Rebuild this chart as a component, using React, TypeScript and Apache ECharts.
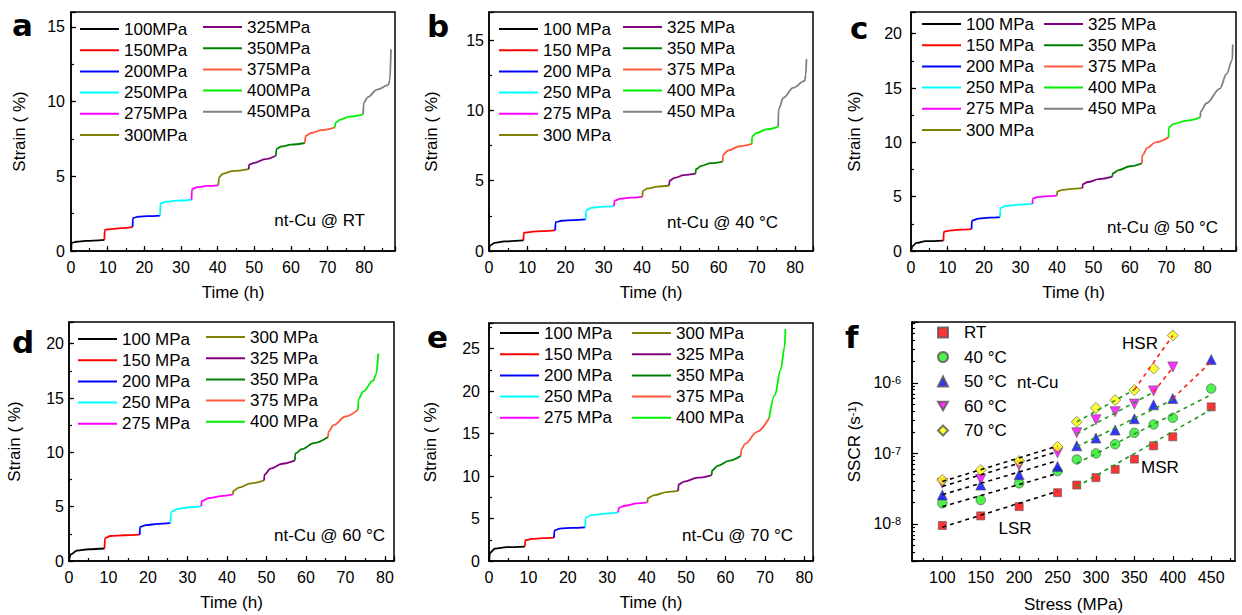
import React, { useEffect, useRef } from 'react';
import * as echarts from 'echarts';

const FONT = '"Liberation Sans", Arial, Helvetica, sans-serif';

type Pt = [number, number];

// ---------- stress levels (legend labels) ----------
const levelsA = ['100MPa', '150MPa', '200MPa', '250MPa', '275MPa', '300MPa', '325MPa', '350MPa', '375MPa', '400MPa', '450MPa'];
const levelsB = ['100 MPa', '150 MPa', '200 MPa', '250 MPa', '275 MPa', '300 MPa', '325 MPa', '350 MPa', '375 MPa', '400 MPa', '450 MPa'];
const levelsD = ['100 MPa', '150 MPa', '200 MPa', '250 MPa', '275 MPa', '300 MPa', '325 MPa', '350 MPa', '375 MPa', '400 MPa'];
const levelColors = ['#000000', '#ff0000', '#0000ff', '#00ffff', '#ff00ff', '#808000', '#800080', '#008000', '#ff5a3c', '#00ee00', '#808080'];

// ---------- panel a : RT (time h, strain %) ----------
const a100: Pt[] = [[0, 0], [0.2, 0.55], [1.5, 0.62], [4, 0.68], [9.1, 0.75]];
const a150: Pt[] = [[9.1, 0.75], [9.2, 1.42], [11, 1.47], [13.5, 1.53], [16.8, 1.6]];
const a200: Pt[] = [[16.8, 1.6], [16.9, 2.22], [18.5, 2.3], [21, 2.33], [24.3, 2.37]];
const a250: Pt[] = [[24.3, 2.37], [24.4, 3.18], [26, 3.3], [29, 3.37], [32.9, 3.43]];
const a275: Pt[] = [[32.9, 3.43], [33.0, 4.15], [34.5, 4.27], [37, 4.36], [40.2, 4.4]];
const a300: Pt[] = [[40.2, 4.4], [40.4, 4.95], [41.5, 5.18], [44, 5.35], [48.5, 5.48]];
const a325: Pt[] = [[48.5, 5.48], [48.6, 5.78], [50, 5.9], [53, 6.15], [55.9, 6.38]];
const a350: Pt[] = [[55.9, 6.38], [56.1, 6.85], [57.5, 7.0], [60, 7.12], [63.8, 7.23]];
const a375: Pt[] = [[63.8, 7.23], [64, 7.7], [65.5, 7.9], [68.5, 8.1], [72, 8.28]];
const a400: Pt[] = [[72, 8.28], [72.2, 8.6], [73.5, 8.8], [76, 9.0], [79.7, 9.15]];
const a450: Pt[] = [[79.7, 9.15], [79.9, 9.95], [81, 10.3], [83.5, 10.8], [86.5, 11.1], [87.0, 11.4], [87.3, 13.5]];

// ---------- panel b : 40 C ----------
const b100: Pt[] = [[0, 0.1], [0.3, 0.4], [1.5, 0.58], [4, 0.68], [9, 0.75]];
const b150: Pt[] = [[9, 0.75], [9.1, 1.3], [11, 1.36], [14, 1.42], [17.3, 1.47]];
const b200: Pt[] = [[17.3, 1.47], [17.4, 2.05], [19, 2.15], [22, 2.2], [25.3, 2.25]];
const b250: Pt[] = [[25.3, 2.25], [25.4, 2.92], [27, 3.08], [30, 3.15], [32.7, 3.19]];
const b275: Pt[] = [[32.7, 3.19], [32.8, 3.58], [34.5, 3.72], [37, 3.79], [40.1, 3.85]];
const b300: Pt[] = [[40.1, 3.85], [40.2, 4.28], [41.5, 4.45], [44, 4.58], [47.1, 4.66]];
const b325: Pt[] = [[47.1, 4.66], [47.2, 5.0], [48.5, 5.2], [51, 5.4], [54.0, 5.5]];
const b350: Pt[] = [[54, 5.5], [54.1, 5.82], [55.5, 6.05], [58, 6.25], [61.1, 6.36]];
const b375: Pt[] = [[61.1, 6.36], [61.2, 6.85], [62.5, 7.15], [65.5, 7.45], [68.7, 7.62]];
const b400: Pt[] = [[68.7, 7.62], [68.8, 8.15], [70, 8.4], [72.5, 8.65], [75.6, 8.85]];
const b450: Pt[] = [[75.6, 8.85], [75.7, 10.1], [77, 10.9], [79.5, 11.6], [82.5, 12.1], [82.8, 12.5], [83.0, 13.65]];

// ---------- panel c : 50 C ----------
const c100: Pt[] = [[0, 0], [0.4, 0.45], [1.5, 0.75], [4, 0.9], [8.9, 0.95]];
const c150: Pt[] = [[8.9, 0.95], [9.0, 1.78], [10.5, 1.88], [13.5, 1.96], [16.6, 2.02]];
const c200: Pt[] = [[16.6, 2.02], [16.7, 2.8], [18.5, 2.98], [21.5, 3.07], [24.4, 3.12]];
const c250: Pt[] = [[24.4, 3.12], [24.5, 3.95], [26, 4.15], [29.5, 4.27], [33.3, 4.34]];
const c275: Pt[] = [[33.3, 4.34], [33.4, 4.84], [35, 4.98], [37.5, 5.05], [40, 5.1]];
const c300: Pt[] = [[40, 5.1], [40.1, 5.48], [41.5, 5.62], [44, 5.72], [47, 5.78]];
const c325: Pt[] = [[47, 5.78], [47.1, 6.15], [48.5, 6.35], [51.5, 6.62], [55.2, 6.85]];
const c350: Pt[] = [[55.2, 6.85], [55.3, 7.15], [57, 7.45], [60, 7.8], [63.3, 8.07]];
const c375: Pt[] = [[63.3, 8.07], [63.4, 8.8], [64.8, 9.5], [67, 10.0], [70.6, 10.46]];
const c400: Pt[] = [[70.6, 10.46], [70.7, 11.4], [72, 11.7], [75.5, 12.0], [79.3, 12.3]];
const c450: Pt[] = [[79.3, 12.3], [79.4, 12.85], [81, 13.6], [84.7, 14.95], [86.5, 16.3], [88.1, 17.6], [88.2, 19.0]];

// ---------- panel d : 60 C ----------
const d100: Pt[] = [[0, 0], [0.4, 0.6], [2, 0.95], [5, 1.08], [9, 1.15]];
const d150: Pt[] = [[9, 1.15], [9.1, 2.1], [10.5, 2.3], [14, 2.37], [17.9, 2.42]];
const d200: Pt[] = [[17.9, 2.42], [18, 3.15], [19.5, 3.3], [22.5, 3.42], [25.7, 3.5]];
const d250: Pt[] = [[25.7, 3.5], [25.8, 4.5], [27.5, 4.8], [30.5, 4.95], [33.5, 5.06]];
const d275: Pt[] = [[33.5, 5.06], [33.6, 5.5], [35.5, 5.8], [38.5, 5.98], [41.5, 6.13]];
const d300: Pt[] = [[41.5, 6.13], [41.6, 6.45], [43, 6.75], [46, 7.15], [49.4, 7.42]];
const d325: Pt[] = [[49.4, 7.42], [49.5, 7.95], [51, 8.5], [54, 8.95], [57.2, 9.26]];
const d350: Pt[] = [[57.2, 9.26], [57.3, 9.9], [59, 10.3], [62, 10.85], [65.6, 11.41]];
const d375: Pt[] = [[65.6, 11.41], [65.7, 11.9], [67, 12.5], [70, 13.3], [73.2, 13.93]];
const d400: Pt[] = [[73.2, 13.93], [73.3, 14.9], [74.5, 15.6], [77.0, 16.6], [77.8, 17.2], [78.3, 19.1]];

// ---------- panel e : 70 C ----------
const e100: Pt[] = [[0, 0], [0.3, 1.0], [1.5, 1.45], [4.5, 1.63], [9.1, 1.7]];
const e150: Pt[] = [[9.1, 1.7], [9.2, 2.45], [11, 2.6], [13.5, 2.68], [16.5, 2.74]];
const e200: Pt[] = [[16.5, 2.74], [16.6, 3.6], [18, 3.82], [21, 3.9], [24.4, 3.96]];
const e250: Pt[] = [[24.4, 3.96], [24.5, 5.1], [26, 5.4], [29.5, 5.58], [32.8, 5.72]];
const e275: Pt[] = [[32.8, 5.72], [32.9, 6.25], [34.5, 6.5], [37.5, 6.78], [40.2, 6.9]];
const e300: Pt[] = [[40.2, 6.9], [40.3, 7.4], [42, 7.75], [45, 8.1], [48, 8.27]];
const e325: Pt[] = [[48, 8.27], [48.1, 9.0], [49.5, 9.35], [53, 9.8], [56.5, 10.11]];
const e350: Pt[] = [[56.5, 10.11], [56.6, 10.65], [58, 11.2], [61, 11.8], [63.9, 12.38]];
const e375: Pt[] = [[63.9, 12.38], [64, 13.1], [65, 13.8], [68, 15.2], [71.1, 16.85]];
const e400: Pt[] = [[71.1, 16.85], [72.5, 19.5], [74, 22.5], [75.0, 25.2], [75.2, 27.3]];

// ---------- panel f : steady-state creep rate (s^-1) vs stress (MPa) ----------
const stressF = [100, 150, 200, 250, 275, 300, 325, 350, 375, 400, 450];
const sscrRT = [9.5e-9, 1.3e-8, 1.76e-8, 2.77e-8, 3.56e-8, 4.53e-8, 5.94e-8, 8.3e-8, 1.28e-7, 1.72e-7, 4.57e-7];
const sscr40 = [1.96e-8, 2.18e-8, 3.76e-8, 5.6e-8, 8.2e-8, 1.0e-7, 1.35e-7, 1.96e-7, 2.57e-7, 3.2e-7, 8.3e-7];
const sscr50 = [2.57e-8, 3.56e-8, 5.0e-8, 6.5e-8, 1.28e-7, 1.65e-7, 2.14e-7, 3.1e-7, 4.9e-7, 6.0e-7, 2.14e-6];
const sscr60 = [3.76e-8, 4.3e-8, 6.8e-8, 1.02e-7, 1.96e-7, 3.0e-7, 3.9e-7, 5.0e-7, 7.7e-7, 1.68e-6, null];
const sscr70 = [4.2e-8, 5.8e-8, 7.8e-8, 1.24e-7, 2.8e-7, 4.4e-7, 5.7e-7, 7.9e-7, 1.6e-6, 4.7e-6, null];
const tempNames = ['RT', '40 °C', '50 °C', '60 °C', '70 °C'];

// fitted regimes (dashed)
const lsrRT: Pt[] = [[100, 9.0e-9], [250, 2.9e-8]];
const lsr40: Pt[] = [[100, 1.76e-8], [250, 5.2e-8]];
const lsr50: Pt[] = [[100, 2.6e-8], [250, 7.9e-8]];
const lsr60: Pt[] = [[100, 3.4e-8], [250, 1.06e-7]];
const lsr70: Pt[] = [[100, 4.0e-8], [250, 1.27e-7]];
const msrRT: Pt[] = [[275, 3.37e-8], [450, 4.2e-7]];
const msr40: Pt[] = [[275, 7.2e-8], [450, 6.8e-7]];
const msr50: Pt[] = [[275, 1.24e-7], [400, 5.8e-7]];
const msr60: Pt[] = [[275, 1.9e-7], [375, 7.4e-7]];
const msr70: Pt[] = [[275, 2.8e-7], [350, 8.0e-7]];
const hsr50: Pt[] = [[400, 6.0e-7], [450, 2.0e-6]];
const hsr60: Pt[] = [[375, 7.4e-7], [400, 1.65e-6]];
const hsr70: Pt[] = [[350, 8.0e-7], [400, 4.7e-6]];

const fStressTicks = [100, 150, 200, 250, 300, 350, 400, 450];
const fStressMinorTicks = [75, 125, 175, 225, 275, 325, 375, 425, 475];

const isMult = (v: number, step: number) => Math.abs(v / step - Math.round(v / step)) < 1e-6;

const panels = [
  {
    letter: 'a', letterPos: [12, 25], names: levelsA,
    segs: [a100, a150, a200, a250, a275, a300, a325, a350, a375, a400, a450],
    grid: { left: 71, top: 12, width: 324, height: 239 },
    xMax: 88.4, yMax: 16, yLabelMargin: 6, yNameGap: 43,
    legends: [{ left: 80, top: 20.5, from: 0, to: 6 }, { left: 203, top: 18.5, from: 6, to: 11 }],
    note: 'nt-Cu @ RT', notePos: [365, 220],
  },
  {
    letter: 'b', letterPos: [427, 26], names: levelsB,
    segs: [b100, b150, b200, b250, b275, b300, b325, b350, b375, b400, b450],
    grid: { left: 489, top: 12, width: 324, height: 239 },
    xMax: 84.7, yMax: 17, yLabelMargin: 5, yNameGap: 49,
    legends: [{ left: 499, top: 20.5, from: 0, to: 6 }, { left: 623, top: 18.5, from: 6, to: 11 }],
    note: 'nt-Cu @ 40 °C', notePos: [778, 222],
  },
  {
    letter: 'c', letterPos: [850, 28], names: levelsB,
    segs: [c100, c150, c200, c250, c275, c300, c325, c350, c375, c400, c450],
    grid: { left: 911, top: 12, width: 325, height: 239 },
    xMax: 89.1, yMax: 22, yLabelMargin: 9, yNameGap: 48,
    legends: [{ left: 922, top: 15.5, from: 0, to: 6 }, { left: 1044, top: 15.5, from: 6, to: 11 }],
    note: 'nt-Cu @ 50 °C', notePos: [1218, 227],
  },
  {
    letter: 'd', letterPos: [12, 342], names: levelsD,
    segs: [d100, d150, d200, d250, d275, d300, d325, d350, d375, d400],
    grid: { left: 69, top: 322, width: 325, height: 239 },
    xMax: 82.3, yMax: 22, yLabelMargin: 5, yNameGap: 46,
    legends: [{ left: 78, top: 330.5, from: 0, to: 5 }, { left: 206, top: 328.5, from: 5, to: 10 }],
    note: 'nt-Cu @ 60 °C', notePos: [385, 535],
  },
  {
    letter: 'e', letterPos: [427, 337], names: levelsD,
    segs: [e100, e150, e200, e250, e275, e300, e325, e350, e375, e400],
    grid: { left: 489, top: 323, width: 324, height: 238 },
    xMax: 82.2, yMax: 28, yLabelMargin: 9, yNameGap: 50,
    legends: [{ left: 500, top: 324.5, from: 0, to: 5 }, { left: 632, top: 324.5, from: 5, to: 10 }],
    note: 'nt-Cu @ 70 °C', notePos: [793, 535],
  },
];

const tickStyle = { color: '#000', width: 1.2 };
const lineAx = { show: true, onZero: false, lineStyle: { color: '#000', width: 1.5 } };
const DOWN_TRI = 'path://M0 0 L20 0 L10 17.32 Z';

function buildOption() {
  const grids: any[] = [];
  const xAxes: any[] = [];
  const yAxes: any[] = [];
  const series: any[] = [];
  const legends: any[] = [];
  const graphics: any[] = [];

  panels.forEach((p, k) => {
    grids.push({ ...p.grid, show: true, borderColor: '#000', borderWidth: 1.5, backgroundColor: 'transparent' });
    xAxes.push({
      type: 'value', gridIndex: k, min: 0, max: p.xMax, interval: 10, position: 'bottom',
      name: 'Time (h)', nameLocation: 'middle', nameGap: 33,
      nameTextStyle: { fontSize: 17, color: '#000', fontFamily: FONT },
      axisLine: lineAx,
      axisTick: { show: true, inside: true, length: 5, lineStyle: tickStyle },
      axisLabel: { margin: 8, fontSize: 16, color: '#000', fontFamily: FONT, formatter: (v: number) => (isMult(v, 10) ? String(v) : '') },
      splitLine: { show: false },
    });
    xAxes.push({
      type: 'value', gridIndex: k, min: 0, max: p.xMax, interval: 5, position: 'bottom',
      axisLine: { show: false }, axisTick: { show: true, inside: true, length: 3, lineStyle: tickStyle },
      axisLabel: { show: false }, splitLine: { show: false },
    });
    yAxes.push({
      type: 'value', gridIndex: k, min: 0, max: p.yMax, interval: 5, position: 'left',
      name: 'Strain ( %)', nameLocation: 'middle', nameGap: p.yNameGap,
      nameTextStyle: { fontSize: 17, color: '#000', fontFamily: FONT },
      axisLine: lineAx,
      axisTick: { show: true, inside: true, length: 5, lineStyle: tickStyle },
      axisLabel: { margin: p.yLabelMargin, fontSize: 16, color: '#000', fontFamily: FONT, formatter: (v: number) => (isMult(v, 5) ? String(v) : '') },
      splitLine: { show: false },
    });
    yAxes.push({
      type: 'value', gridIndex: k, min: 0, max: p.yMax, interval: 2.5, position: 'left',
      axisLine: { show: false }, axisTick: { show: true, inside: true, length: 3, lineStyle: tickStyle },
      axisLabel: { show: false }, splitLine: { show: false },
    });
    p.segs.forEach((seg, i) => {
      series.push({
        type: 'line', name: p.names[i], xAxisIndex: 2 * k, yAxisIndex: 2 * k, data: seg,
        symbol: 'none', showSymbol: false, smooth: 0.35, smoothMonotone: 'x',
        lineStyle: { color: levelColors[i], width: 1.8 }, itemStyle: { color: levelColors[i] },
      });
    });
    p.legends.forEach((lg) => {
      legends.push({
        orient: 'vertical', left: lg.left, top: lg.top, padding: 0, itemGap: 4.2,
        itemWidth: 39, itemHeight: 2, icon: 'rect', selectedMode: false,
        textStyle: { fontSize: 17, color: '#000', fontFamily: FONT },
        data: p.names.slice(lg.from, lg.to),
      });
    });
    graphics.push({
      type: 'text', x: p.letterPos[0], y: p.letterPos[1],
      style: { text: p.letter, fontSize: 31, fontWeight: 'bold', fontFamily: '"DejaVu Sans", sans-serif', fill: '#000', align: 'left', verticalAlign: 'middle' },
    });
    graphics.push({
      type: 'text', x: p.notePos[0], y: p.notePos[1],
      style: { text: p.note, fontSize: 17, fontFamily: FONT, fill: '#000', align: 'right', verticalAlign: 'middle' },
    });
  });

  // ---- panel f ----
  const fk = 5;
  const yMin = 2.98e-9;
  const yMax = 7.3e-6;
  const minorLog: number[] = [];
  for (let e = -9; e <= -6; e++) {
    for (let m = 2; m <= 9; m++) {
      const v = m * Math.pow(10, e);
      if (v > yMin && v < yMax) minorLog.push(v);
    }
  }
  const supRich = { sup: { fontSize: 11, verticalAlign: 'top', fontFamily: FONT, color: '#000' } };
  grids.push({ left: 912, top: 322, width: 323, height: 239, show: true, borderColor: '#000', borderWidth: 1.5, backgroundColor: 'transparent' });
  xAxes.push({
    type: 'value', gridIndex: fk, min: 60.5, max: 481, position: 'bottom',
    name: 'Stress (MPa)', nameLocation: 'middle', nameGap: 35,
    nameTextStyle: { fontSize: 17, color: '#000', fontFamily: FONT },
    axisLine: lineAx,
    axisTick: { show: true, inside: true, length: 5, lineStyle: tickStyle, customValues: fStressTicks },
    axisLabel: { margin: 8, fontSize: 16, color: '#000', fontFamily: FONT, customValues: fStressTicks },
    splitLine: { show: false },
  });
  xAxes.push({
    type: 'value', gridIndex: fk, min: 60.5, max: 481, position: 'bottom',
    axisLine: { show: false },
    axisTick: { show: true, inside: true, length: 3, lineStyle: tickStyle, customValues: fStressMinorTicks },
    axisLabel: { show: false }, splitLine: { show: false },
  });
  yAxes.push({
    type: 'log', logBase: 10, gridIndex: fk, min: yMin, max: yMax, position: 'left',
    name: 'SSCR (s{sup|-1})', nameLocation: 'middle', nameGap: 49,
    nameTextStyle: { fontSize: 17, color: '#000', fontFamily: FONT, rich: supRich },
    axisLine: lineAx,
    axisTick: { show: true, inside: true, length: 6, lineStyle: tickStyle },
    axisLabel: {
      margin: 11, fontSize: 16, color: '#000', fontFamily: FONT, rich: supRich,
      formatter: (v: number) => {
        const lg = Math.log10(v);
        const r = Math.round(lg);
        return Math.abs(lg - r) < 1e-6 ? `10{sup|${r}}` : '';
      },
    },
    splitLine: { show: false },
  });
  yAxes.push({
    type: 'log', logBase: 10, gridIndex: fk, min: yMin, max: yMax, position: 'left',
    axisLine: { show: false },
    axisTick: { show: true, inside: true, length: 3, lineStyle: tickStyle, customValues: minorLog },
    axisLabel: { show: false }, splitLine: { show: false },
  });

  const sets = [sscrRT, sscr40, sscr50, sscr60, sscr70];
  const symStyles = [
    { symbol: 'rect', size: 8, color: '#ff0000' },
    { symbol: 'circle', size: 9.5, color: '#22ee22' },
    { symbol: 'triangle', size: 10, color: '#0000ff' },
    { symbol: DOWN_TRI, size: 10, color: '#ff00ff' },
    { symbol: 'diamond', size: 11, color: '#ffff00' },
  ];
  sets.forEach((vals, i) => {
    const st = symStyles[i];
    series.push({
      type: 'scatter', name: tempNames[i], xAxisIndex: 2 * fk, yAxisIndex: 2 * fk,
      data: stressF.map((s, j) => (vals[j] == null ? null : [s, vals[j]])).filter((d) => d !== null),
      symbol: st.symbol, symbolSize: st.size,
      itemStyle: { color: st.color, borderColor: '#555', borderWidth: 0.8 }, z: 2,
    });
  });
  const fits: [Pt[], string][] = [
    [lsrRT, '#000'], [lsr40, '#000'], [lsr50, '#000'], [lsr60, '#000'], [lsr70, '#000'],
    [msrRT, '#1e9a1e'], [msr40, '#1e9a1e'], [msr50, '#1e9a1e'], [msr60, '#1e9a1e'], [msr70, '#1e9a1e'],
    [hsr50, '#ff2020'], [hsr60, '#ff2020'], [hsr70, '#ff2020'],
  ];
  fits.forEach(([d, c]) => {
    series.push({
      type: 'line', xAxisIndex: 2 * fk, yAxisIndex: 2 * fk, data: d, symbol: 'none', showSymbol: false,
      lineStyle: { color: c, width: 1.6, type: [4, 4] }, z: 3, silent: true,
    });
  });
  legends.push({
    orient: 'vertical', left: 937, top: 324, padding: 0, itemGap: 7.5,
    itemWidth: 10, itemHeight: 10, selectedMode: false,
    textStyle: { fontSize: 17, color: '#000', fontFamily: FONT, padding: [0, 0, 0, 11] },
    data: tempNames,
  });
  graphics.push({
    type: 'text', x: 845, y: 337,
    style: { text: 'f', fontSize: 31, fontWeight: 'bold', fontFamily: '"DejaVu Sans", sans-serif', fill: '#000', align: 'left', verticalAlign: 'middle' },
  });
  const fNotes: [string, number, number, string][] = [
    ['HSR', 1140, 343, 'center'], ['MSR', 1160, 467, 'center'], ['LSR', 1015, 528, 'center'], ['nt-Cu', 1017, 382, 'left'],
  ];
  fNotes.forEach(([t, x, y, al]) => {
    graphics.push({ type: 'text', x, y, style: { text: t, fontSize: 17, fontFamily: FONT, fill: '#000', align: al, verticalAlign: 'middle' } });
  });

  return {
    animation: false,
    backgroundColor: '#fff',
    textStyle: { fontFamily: FONT },
    grid: grids,
    xAxis: xAxes,
    yAxis: yAxes,
    legend: legends,
    series,
    graphic: graphics,
  };
}

export default function App() {
  const ref = useRef<HTMLDivElement>(null);
  useEffect(() => {
    if (!ref.current) return;
    const chart = echarts.init(ref.current, null, { renderer: 'svg' });
    chart.setOption(buildOption() as any);
    return () => chart.dispose();
  }, []);
  return <div ref={ref} style={{ position: 'absolute', left: 0, top: 0, width: 1242, height: 615, background: '#fff' }} />;
}
